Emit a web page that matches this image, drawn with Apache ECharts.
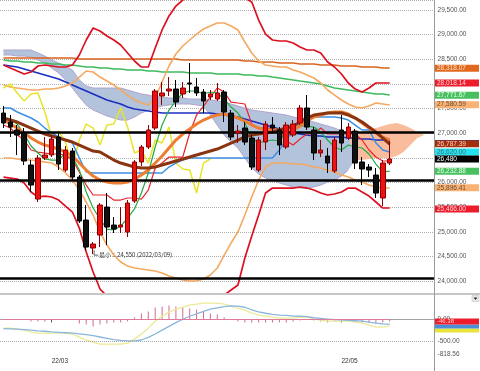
<!DOCTYPE html>
<html><head><meta charset="utf-8">
<script src="https://cdn.jsdelivr.net/npm/echarts@6/dist/echarts.min.js"></script>
<style>html,body{margin:0;padding:0;background:#fff}#c{width:480px;height:371px}</style>
</head><body><div id="c"></div>
<script>
// ---------- DATA ----------
const dates = ['22/02/17','22/02/18','22/02/21','22/02/22','22/02/24','22/02/25','22/02/28','22/03/01','22/03/02','22/03/03','22/03/04','22/03/07','22/03/08','22/03/09','22/03/10','22/03/11','22/03/14','22/03/15','22/03/16','22/03/17','22/03/18','22/03/22','22/03/23','22/03/24','22/03/25','22/03/28','22/03/29','22/03/30','22/03/31','22/04/01','22/04/04','22/04/05','22/04/06','22/04/07','22/04/08','22/04/11','22/04/12','22/04/13','22/04/14','22/04/15','22/04/18','22/04/19','22/04/20','22/04/21','22/04/22','22/04/25','22/04/26','22/04/27','22/04/28','22/05/02','22/05/06','22/05/09','22/05/10','22/05/11','22/05/12','22/05/13','22/05/16','22/05/17','22/05/18','22/05/19','22/05/20','22/05/23','22/05/24'];
const tickDates = ['22/03/01','22/05/02'];
const tickLabels = ['22/03','22/05'];

const open  = [27411,27229,27067,27006,26357,25667,26499,26560,26925,26255,26641,26113,25241,24674,24938,25505,25140,25100,24998,25627,26418,26722,27107,27756,27858,27898,27797,28020,27939,27837,27736,27695,27837,27411,27006,27107,26904,26255,26823,27168,27067,26722,26965,27209,27513,27067,26600,26539,26235,27067,26904,27046,26418,26316,26154,25688,26397];
const close = [27209,27127,26965,26438,25951,26499,26560,26884,26377,26661,26113,25221,24694,24755,25546,25100,25059,25140,25586,26418,26722,27067,27858,27817,27898,27634,27918,28000,27817,27655,27797,27817,27432,26925,27046,26823,26316,26864,27188,27107,26762,27168,27188,27513,27127,26600,26661,26397,26864,26803,27127,26397,26276,26255,25789,26397,26479];
const low   = [27107,26925,26560,26357,25809,25607,26458,26519,26255,26215,26053,25181,24633,24550,24694,24734,24978,24978,24897,25586,26336,26681,27067,27574,27756,27533,27716,27817,27756,27411,27675,27655,27229,26864,26803,26762,26255,26215,26661,27026,26560,26681,26925,27168,27067,26458,26519,26195,26195,26620,26864,26276,25951,26113,25688,25525,26357];
const high  = [27553,27371,27168,27107,26458,26560,26925,26965,27006,26742,26702,26154,25546,24795,25586,25789,25302,25505,25647,26458,26762,27168,27898,28040,28141,28081,28040,28425,28121,27898,27878,28020,27878,27472,27168,27229,26965,26925,27249,27330,27127,27229,27269,27574,27776,27127,26864,26702,26925,27371,27209,27087,26519,26377,26296,26458,26844];

const bbUpper3 = [28385,28324,28263,28202,28243,28365,28385,28365,28344,28344,28385,28588,28892,29135,29074,28973,28892,28790,28628,28466,28344,28344,28730,29095,29379,29581,29703,29825,29906,29946,29987,29987,29946,29906,29825,29744,29662,29297,29013,28892,28872,28872,28831,28750,28689,28689,28628,28446,28344,28202,28020,27898,27837,27918,28020,28020,28020];
const bbLower3 = [26113,26093,26073,25992,25809,25708,25728,25708,25647,25525,25404,25079,24592,24187,23842,23700,23518,23376,23254,23173,23112,23051,23011,23011,23011,23051,23092,23132,23213,23335,23497,23619,23720,23822,23923,24471,24917,25343,25789,25890,25890,25890,25890,25911,25890,25850,25789,25749,25769,25809,25890,25890,25809,25728,25607,25485,25485];
const bbUpper2 = [27979,27939,27918,27898,27878,27878,27898,27898,27918,27959,28020,28141,28263,28243,28141,28060,27979,27878,27776,27675,27614,27574,27716,28040,28365,28608,28770,28892,29013,29115,29176,29237,29237,29176,29095,28851,28628,28466,28385,28365,28344,28344,28283,28243,28182,28121,28020,27878,27776,27675,27594,27533,27513,27553,27614,27594,27574];
const bbLower2 = [26499,26499,26479,26458,26458,26438,26418,26397,26316,26195,26053,25850,25607,25343,25000,24734,24532,24390,24308,24268,24248,24228,24207,24167,24106,24065,24025,24004,24004,24045,24126,24268,24532,24775,25000,25343,25708,26053,26316,26397,26397,26397,26377,26377,26357,26316,26296,26255,26215,26154,26113,26053,26012,25951,25911,25890,25890];

const maLong   = [28527,28527,28527,28527,28527,28527,28527,28527,28527,28527,28527,28506,28506,28506,28506,28506,28506,28506,28506,28506,28506,28506,28506,28506,28506,28506,28486,28486,28486,28486,28486,28486,28486,28486,28486,28466,28466,28446,28446,28446,28425,28425,28425,28405,28405,28405,28385,28385,28385,28365,28365,28365,28344,28344,28344,28324,28324];
const maGreen  = [28486,28466,28466,28446,28446,28425,28425,28405,28405,28385,28385,28365,28344,28344,28324,28324,28304,28304,28283,28283,28283,28263,28263,28243,28243,28243,28243,28223,28223,28223,28223,28202,28202,28202,28202,28182,28182,28162,28162,28141,28121,28101,28081,28060,28040,28020,28000,27959,27918,27898,27878,27858,27837,27817,27797,27797,27776];
const maNavy   = [28385,28365,28344,28304,28263,28223,28182,28141,28101,28040,27979,27918,27858,27797,27736,27675,27634,27594,27533,27493,27472,27452,27432,27411,27411,27411,27411,27411,27411,27411,27411,27391,27371,27351,27330,27290,27249,27209,27168,27127,27087,27046,27006,26986,26965,26945,26945,26925,26925,26925,26904,26904,26884,26884,26864,26864,26844];
const maBrown  = [27310,27269,27229,27168,27107,27046,26986,26945,26904,26864,26823,26762,26702,26641,26620,26539,26458,26397,26357,26316,26296,26296,26316,26357,26397,26438,26479,26519,26560,26600,26641,26681,26742,26803,26864,26925,26965,26986,27006,27026,27067,27107,27148,27229,27310,27371,27391,27411,27411,27411,27371,27310,27229,27127,27026,26904,26783];
const maOrange = [27269,27188,27107,27006,26904,26823,26762,26722,26681,26620,26539,26397,26255,26134,26053,26012,25992,25992,26012,26073,26154,26255,26397,26539,26702,26864,26986,27087,27188,27269,27330,27371,27391,27351,27310,27249,27168,27107,27067,27067,27067,27067,27067,27148,27249,27330,27371,27411,27432,27432,27391,27310,27209,27107,27006,26925,26864];
const maShort  = [27310,27269,27188,26986,26742,26600,26479,26458,26458,26600,26519,26255,25809,25485,25262,25059,25039,25120,25282,25467,25789,26195,26722,27168,27472,27655,27817,27858,27858,27797,27837,27817,27695,27533,27411,27209,26904,26803,26844,26864,26844,27026,27087,27148,27148,27127,27026,26864,26722,26661,26762,26722,26702,26580,26377,26215,26235];

const tenkan = [27168,27107,26965,26864,26661,26620,26600,26580,26580,26560,26458,26215,25951,25749,25749,25749,25647,25647,25688,25688,25667,25850,26296,26397,26519,26519,26519,27006,27371,27553,27736,27918,27837,27634,27614,27594,27188,27107,27107,27107,27046,26844,26762,26884,26986,26986,27107,26986,26986,26986,26986,26986,26864,26661,26519,26438,26438];
const kijun  = [27513,27513,27432,27371,27310,27229,27107,27006,26925,26864,26803,26499,26215,26195,26195,26195,26195,26195,26195,26195,26195,26195,26195,26195,26316,26397,26458,26499,26499,26499,26499,26499,26499,26499,26499,26499,26499,26499,26499,26499,26661,26864,27067,27269,27330,27330,27330,27330,27330,27310,27269,27168,27067,27067,26803,26661,26620];
const chikou = [27918,28000,27817,27655,27797,27817,27432,26925,27046,26823,26316,26864,27188,27107,26762,27168,27188,27513,27127,26600,26661,26397,26864,26803,27127,26397,26276,26255,25789,26397,26479];
const spanA  = [28689,28689,28689,28689,28689,28628,28567,28486,28425,28365,28283,28081,27959,27918,27918,27918,27918,27918,27878,27837,27797,27776,27736,27736,27716,27716,27716,27695,27695,27695,27675,27655,27634,27594,27553,27513,27472,27452,27432,27411,27391,27371,27330,27310,27269,27229,27188,27148,27107,27046,26986,26458,26458,26479,26499,26499,26499,26539,26620,26762,26904,26965];
const spanB  = [28588,28588,28567,28567,28547,28486,28425,28324,28223,28081,27918,27736,27574,27472,27411,27351,27310,27269,27269,27330,27411,27472,27513,27553,27574,27594,27594,27594,27574,27553,27371,27168,26965,26823,26702,26499,26296,26174,26093,26053,25992,25951,25911,25890,25890,25911,25951,26012,26053,26134,26255,26965,27026,27067,27107,27148,27188,27209,27168,27107,27026,26965];

const hLines = [27030, 26050, 24060];
const lowDate = '22/03/09', lowValue = 24550, lowText = '最小：24,550 (2022/03/09)';

const macdLine   = [-203,-203,-227,-250,-297,-320,-320,-320,-320,-320,-343,-413,-484,-530,-577,-577,-577,-577,-554,-460,-343,-203,-40,77,171,241,287,334,357,381,381,381,357,311,264,217,147,100,77,54,30,30,30,54,54,7,-16,-40,-40,-40,-40,-63,-86,-133,-180,-180,-157];
const macdSignal = [-215,-220,-228,-238,-250,-265,-275,-290,-300,-310,-320,-335,-355,-380,-410,-440,-470,-490,-500,-500,-480,-420,-340,-250,-160,-75,5,75,130,190,240,270,300,315,310,285,225,175,145,120,100,95,80,75,65,40,25,10,-5,-10,-20,-30,-40,-60,-85,-105,-115];
const macdHist   = [12,12,7,-12,-47,-47,-47,-12,-7,-7,-12,-94,-117,-164,-117,-94,-70,-70,-47,47,140,187,280,304,327,304,280,257,234,187,140,117,47,-12,-47,-70,-70,-70,-70,-70,-70,-70,-47,-23,-12,-23,-47,-70,-23,-35,-12,-47,-70,-70,-94,-70,-47];
const macdLevels = [0, -500];
const macdMin = -818.56, macdMax = 548;

const priceTagValues = [28318.07, 28018.14, 27771.67, 27580.59, 26844, 26787.39, 26620.00, 26480, 26232.88, 25896.41, 25466.00];
const priceTagTexts  = ['28,318.07','28,018.14','27,771.67','27,580.59','','26,787.39','26,620.00','26,480','26,232.88','25,896.41','25,466.00'];
const macdTagValues = [-46.38, -115, -157];
const macdTagTexts  = ['-46.38', '', ''];

// ---------- STYLE ----------
const tagStyle = [
  {bg:'#e2681e', fg:'#fde2cc'}, {bg:'#ec1c2c', fg:'#ffd6d6'}, {bg:'#48c060', fg:'#e8ffe8'},
  {bg:'#f8b274', fg:'#6a4a30'}, {bg:'#1a2fbf', fg:'#fff', thin:true}, {bg:'#a2300e', fg:'#ffd0c0'},
  {bg:'#22e4f0', fg:'#4a6a70'}, {bg:'#000000', fg:'#ffffff'}, {bg:'#48c060', fg:'#e8ffe8'},
  {bg:'#f8b274', fg:'#6a4a30'}, {bg:'#ec1c2c', fg:'#ffd6d6'}
];
const macdTagStyle = [{bg:'#ec1c2c', fg:'#ffd0d0', h:6}, {bg:'#4a8ed8', fg:'#fff', h:4}, {bg:'#e8e43a', fg:'#555', h:4}];

const FONT = 'Liberation Sans';
const fmt = v => v.toLocaleString('en-US', {minimumFractionDigits:2, maximumFractionDigits:2});
const chart = echarts.init(document.getElementById('c'), null, {renderer:'canvas', width:480, height:371});

const candleData = open.map((o,i) => [o, close[i], low[i], high[i]]);
const cloudBase = spanA.map((a,i) => Math.min(a, spanB[i]));
const cloudUp = spanA.map((a,i) => a >= spanB[i] ? a - spanB[i] : 0);
const cloudDown = spanA.map((a,i) => spanB[i] > a ? spanB[i] - a : 0);
const edgeA = spanA.map((v,i) => i <= 50 ? v : null);
const edgeB = spanB.map((v,i) => i <= 50 ? v : null);

const showTick = (idx, val) => tickDates.indexOf(val) >= 0;
const ln = (name, data, color, width, z, extra) => Object.assign({
  name, type:'line', xAxisIndex:0, yAxisIndex:0, data, symbol:'none', silent:true,
  lineStyle:{color, width}, z
}, extra || {});

const option = {
  animation:false,
  textStyle:{fontFamily:FONT},
  grid:[
    {left:-1.46, top:0, width:436, height:293},
    {left:-1.46, top:296, width:436, height:58.5}
  ],
  xAxis:[
    {type:'category', gridIndex:0, data:dates, boundaryGap:true, axisLine:{show:false}, axisTick:{show:false}, axisLabel:{show:false}, splitLine:{show:false}},
    {type:'category', gridIndex:1, data:dates, boundaryGap:true,
     axisLine:{show:true, lineStyle:{color:'#9a9a9a', width:1}},
     axisTick:{show:true, alignWithLabel:true, interval:showTick, length:3, lineStyle:{color:'#555'}},
     axisLabel:{interval:showTick, formatter:v => tickLabels[tickDates.indexOf(v)] || '', fontSize:6.5, color:'#333', margin:3, align:'left'},
     splitLine:{show:false}}
  ],
  yAxis:[
    {type:'value', gridIndex:0, position:'right', min:23762, max:29703, splitNumber:12, scale:true,
     axisLine:{show:false}, axisTick:{show:false},
     axisLabel:{margin:3, fontSize:6.5, color:'#555', showMinLabel:false, showMaxLabel:false,
       formatter:v => (Math.abs(v % 500) < 1e-6 ? fmt(v) : '')},
     splitLine:{show:true, lineStyle:{type:'dotted', color:'#b0b0b0', width:1}}},
    {type:'value', gridIndex:1, position:'right', min:macdMin, max:macdMax, splitNumber:3,
     axisLine:{show:false}, axisTick:{show:false}, splitLine:{show:false},
     axisLabel:{margin:3, fontSize:6.5, color:'#555', showMinLabel:true, showMaxLabel:false,
       formatter:v => (macdLevels.indexOf(v) >= 0 || v === macdMin) ? fmt(v) : ''}}
  ],
  series:[
    ln('cloudBase', cloudBase, 'rgba(0,0,0,0)', 0, 1, {stack:'cloud'}),
    ln('cloudUp', cloudUp, 'rgba(0,0,0,0)', 0, 1, {stack:'cloud', areaStyle:{color:'#b3c3dc', opacity:1}}),
    ln('cloudDown', cloudDown, 'rgba(0,0,0,0)', 0, 1, {stack:'cloud', areaStyle:{color:'#f9bc9c', opacity:1}}),
    ln('spanA', edgeA, '#b0a2cc', 1, 2),
    ln('spanB', edgeB, '#b0a2cc', 1, 2),
    ln('maLong', maLong, '#d8641e', 1.6, 3),
    ln('maGreen', maGreen, '#3dba5c', 1.6, 3),
    ln('maNavy', maNavy, '#1a2fbf', 1.6, 3),
    ln('bbUpper3', bbUpper3, '#dc1020', 1.7, 3),
    ln('bbLower3', bbLower3, '#dc1020', 1.7, 3),
    ln('bbUpper2', bbUpper2, '#f4a860', 1.6, 3),
    ln('bbLower2', bbLower2, '#f4a860', 1.6, 3),
    ln('chikou', chikou, '#e8e428', 1.5, 3),
    ln('kijun', kijun, '#3d8fe3', 1.5, 4),
    ln('tenkan', tenkan, '#e8242c', 1.2, 4),
    ln('maShort', maShort, '#22aa44', 1.2, 4),
    ln('maOrange', maOrange, '#ee7d32', 3, 4),
    ln('maBrown', maBrown, '#8b3412', 3, 4),
    {name:'candles', type:'candlestick', xAxisIndex:0, yAxisIndex:0, data:candleData, barWidth:5, z:10, silent:true,
     itemStyle:{color:'#ee1111', color0:'#111111', borderColor:'#8a0000', borderColor0:'#000000', borderWidth:1},
     markLine:{silent:true, symbol:['none','none'], label:{show:false}, z:9,
       lineStyle:{color:'#000', width:2.5, type:'solid'},
       data:hLines.map(v => ({yAxis:v}))}},
    {name:'hist', type:'bar', xAxisIndex:1, yAxisIndex:1, data:macdHist, barWidth:1, z:3, silent:true,
     itemStyle:{color:'#d36a92'},
     markLine:{silent:true, symbol:['none','none'], label:{show:false},
       data:[
         {yAxis:macdLevels[0], lineStyle:{color:'#aaa', type:'dotted', width:1}},
         {yAxis:macdLevels[1], lineStyle:{color:'#aaa', type:'dotted', width:1}},
         [{coord:[dates[0], 0], lineStyle:{color:'#e07a9a', type:'solid', width:1}}, {coord:[dates[macdHist.length-1], 0]}]
       ]}},
    {name:'macd', type:'line', xAxisIndex:1, yAxisIndex:1, data:macdLine, symbol:'none', silent:true, lineStyle:{color:'#ecea96', width:1.3}, z:4},
    {name:'signal', type:'line', xAxisIndex:1, yAxisIndex:1, data:macdSignal, symbol:'none', silent:true, lineStyle:{color:'#8ab6de', width:1.3}, z:4}
  ]
};
chart.setOption(option);

// ---------- overlays positioned through the axes ----------
const g = [];
g.push({type:'rect', shape:{x:0, y:293, width:480, height:2}, style:{fill:'#c6c6c6'}, z:50});
g.push({type:'line', shape:{x1:434.5, y1:0, x2:434.5, y2:371}, style:{stroke:'#9a9a9a', lineWidth:1}, z:50});

priceTagValues.forEach((v, i) => {
  const y = chart.convertToPixel({yAxisIndex:0}, v);
  const st = tagStyle[i];
  if (st.thin) {
    g.push({type:'rect', shape:{x:435, y:y-1, width:44, height:2}, style:{fill:st.bg}, z:60});
    return;
  }
  g.push({type:'rect', shape:{x:435, y:y-3.5, width:44, height:7}, style:{fill:st.bg}, z:60});
  g.push({type:'text', x:437, y:y, style:{text:priceTagTexts[i], fill:st.fg, fontSize:6.5, fontFamily:FONT, verticalAlign:'middle'}, z:61});
});

let prevBottom = -1e9;
macdTagValues.forEach((v, i) => {
  const st = macdTagStyle[i];
  let top = chart.convertToPixel({yAxisIndex:1}, v) - st.h/2;
  if (top < prevBottom) top = prevBottom;
  prevBottom = top + st.h;
  g.push({type:'rect', shape:{x:435, y:top, width:44, height:st.h}, style:{fill:st.bg}, z:60 - i});
  if (macdTagTexts[i]) g.push({type:'text', x:437, y:top + st.h/2, style:{text:macdTagTexts[i], fill:st.fg, fontSize:6, fontFamily:FONT, verticalAlign:'middle'}, z:62});
});

// dropdown icon in the indicator pane
g.push({type:'rect', shape:{x:472, y:295.5, width:7, height:6}, style:{fill:'#e8e8e8', stroke:'#bbb', lineWidth:0.5}, z:60});
g.push({type:'polygon', shape:{points:[[473.5,297.5],[477.5,297.5],[475.5,300]]}, style:{fill:'#333'}, z:61});

// minimum annotation
const lp = chart.convertToPixel({gridIndex:0}, [lowDate, lowValue]);
g.push({type:'polyline', shape:{points:[[lp[0]+1, lp[1]-4], [lp[0]+1, lp[1]+1], [lp[0]+5, lp[1]+1]]}, style:{stroke:'#333', lineWidth:0.8, fill:null}, z:40});
g.push({type:'text', x:lp[0]+6, y:lp[1]+1, style:{text:lowText, fill:'#333', fontSize:6, fontFamily:'Noto Sans CJK JP', verticalAlign:'middle'}, z:40});

chart.setOption({graphic:g});
</script>
</body></html>
